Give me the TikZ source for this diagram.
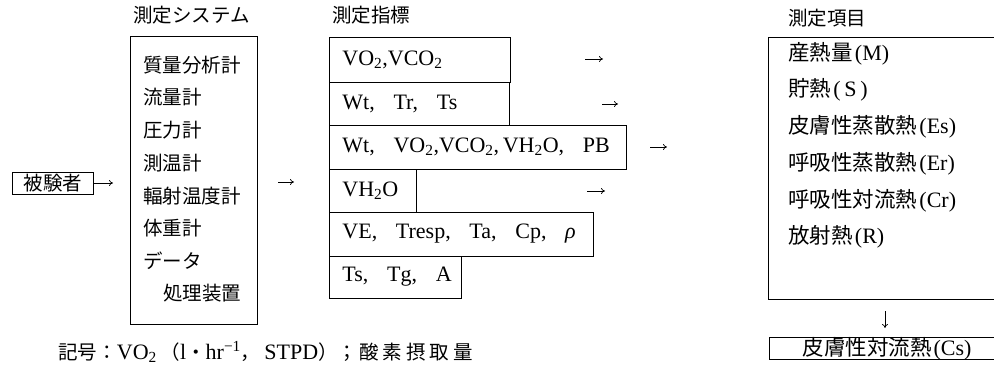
\documentclass[tikz,border=0pt]{standalone}
\usepackage{fontspec}
\setmainfont{Liberation Serif}
\newfontfamily\jp{Noto Sans CJK JP}
\usetikzlibrary{arrows.meta}
\newcommand\J[1]{{\jp\fontsize{19.5}{22}\selectfont #1}}
\newcommand\JR[1]{{\jp\fontsize{21.5}{24}\selectfont #1}\kern2pt}
\newcommand\sbs[1]{\textsubscript{#1}}
\newcommand\gp{\hspace{0.85em}}
\begin{document}
\begin{tikzpicture}[x=1pt,y=-1pt,
  font=\fontsize{22}{24}\selectfont,
  line width=0.9pt,
  box/.style={draw, inner sep=0pt, anchor=north west},
  txt/.style={anchor=west, inner sep=0pt},
  arr/.style={-{To[length=4pt,width=6pt]}, line width=0.7pt}]
\useasboundingbox (0,0) rectangle (994,377);

% titles
\node[txt] (t1) at (133,15) {\J{測定システム}};
\node[txt] (t2) at (332,15) {\J{測定指標}};
\node[txt] (t3) at (788,18) {\J{測定項目}};

% subject
\node[box, minimum width=81pt, minimum height=22pt] (subj) at (12,172) {};
\node (subjt) at (subj.center) {\J{被験者}};

% system box
\node[box, minimum width=127pt, minimum height=288pt] (sys) at (130,36) {};
\node[txt] (s1) at (143,65) {\J{質量分析計}};
\node[txt] (s2) at (143,97) {\J{流量計}};
\node[txt] (s3) at (143,130) {\J{圧力計}};
\node[txt] (s4) at (143,163) {\J{測温計}};
\node[txt] (s5) at (143,196) {\J{輻射温度計}};
\node[txt] (s6) at (143,228) {\J{体重計}};
\node[txt] (s7) at (143,261) {\J{データ}};
\node[txt] (s8) at (163,293) {\J{処理装置}};

% index boxes
\node[box, minimum width=181pt, minimum height=45pt] (b1) at (329,37) {};
\node[box, minimum width=180pt, minimum height=43pt] (b2) at (329,82) {};
\node[box, minimum width=297pt, minimum height=44pt] (b3) at (329,125) {};
\node[box, minimum width=87pt, minimum height=43pt] (b4) at (329,169) {};
\node[box, minimum width=264pt, minimum height=44pt] (b5) at (329,212) {};
\node[box, minimum width=132pt, minimum height=42pt] (b6) at (329,256) {};
\node[txt] (m1) at (342,59.5) {VO\sbs{2},VCO\sbs{2}};
\node[txt] (m2) at (342,103.5) {Wt,\gp Tr,\gp Ts};
\node[txt] (m3) at (342,147) {Wt,\gp VO\sbs{2},VCO\sbs{2},\,VH\sbs{2}O,\gp PB};
\node[txt] (m4) at (342,190.5) {VH\sbs{2}O};
\node[txt] (m5) at (342,234) {VE,\gp Tresp,\gp Ta,\gp Cp,\gp \textit{ρ}};
\node[txt] (m6) at (342,277) {Ts,\gp Tg,\gp A};

% item box
\node[box, minimum width=240pt, minimum height=262pt] (items) at (768,37) {};
\node[txt] (r1) at (788,54) {\JR{産熱量}(M)};
\node[txt] (r2) at (788,90) {\JR{貯熱}(\,S\,)};
\node[txt] (r3) at (788,127) {\JR{皮膚性蒸散熱}(Es)};
\node[txt] (r4) at (788,164) {\JR{呼吸性蒸散熱}(Er)};
\node[txt] (r5) at (788,201) {\JR{呼吸性対流熱}(Cr)};
\node[txt] (r6) at (788,237) {\JR{放射熱}(R)};

\node[box, minimum width=240pt, minimum height=22pt] (cs) at (769,337) {};
\node (cst) at (887,349) {\JR{皮膚性対流熱}(Cs)};

% arrows
\coordinate (a0) at (113,183);
\draw[arr] (subj.east |- a0) -- (a0);
\coordinate (a1s) at (278,182); \coordinate (a1e) at (294,182);
\draw[arr] (a1s) -- (a1e);
\coordinate (r1s) at (585,59); \coordinate (r1e) at (603,59);
\draw[arr] (r1s) -- (r1e);
\coordinate (r2s) at (602,104); \coordinate (r2e) at (618,104);
\draw[arr] (r2s) -- (r2e);
\coordinate (r3s) at (650,147); \coordinate (r3e) at (667,147);
\draw[arr] (r3s) -- (r3e);
\coordinate (r4s) at (587,191); \coordinate (r4e) at (605,191);
\draw[arr] (r4s) -- (r4e);
\coordinate (ds) at (885,311); \coordinate (de) at (885,328);
\draw[arr] (ds) -- (de);

% note
\node[txt] (note) at (58,352) {\J{記号：}VO\sbs{2}\,\J{（}l\J{・}hr\textsuperscript{−1}\J{，}\hspace{4pt}STPD\J{）；}\hspace{2pt}\J{酸\kern4pt 素\kern4pt 摂\kern4pt 取\kern4pt 量}};
\end{tikzpicture}
\end{document}
